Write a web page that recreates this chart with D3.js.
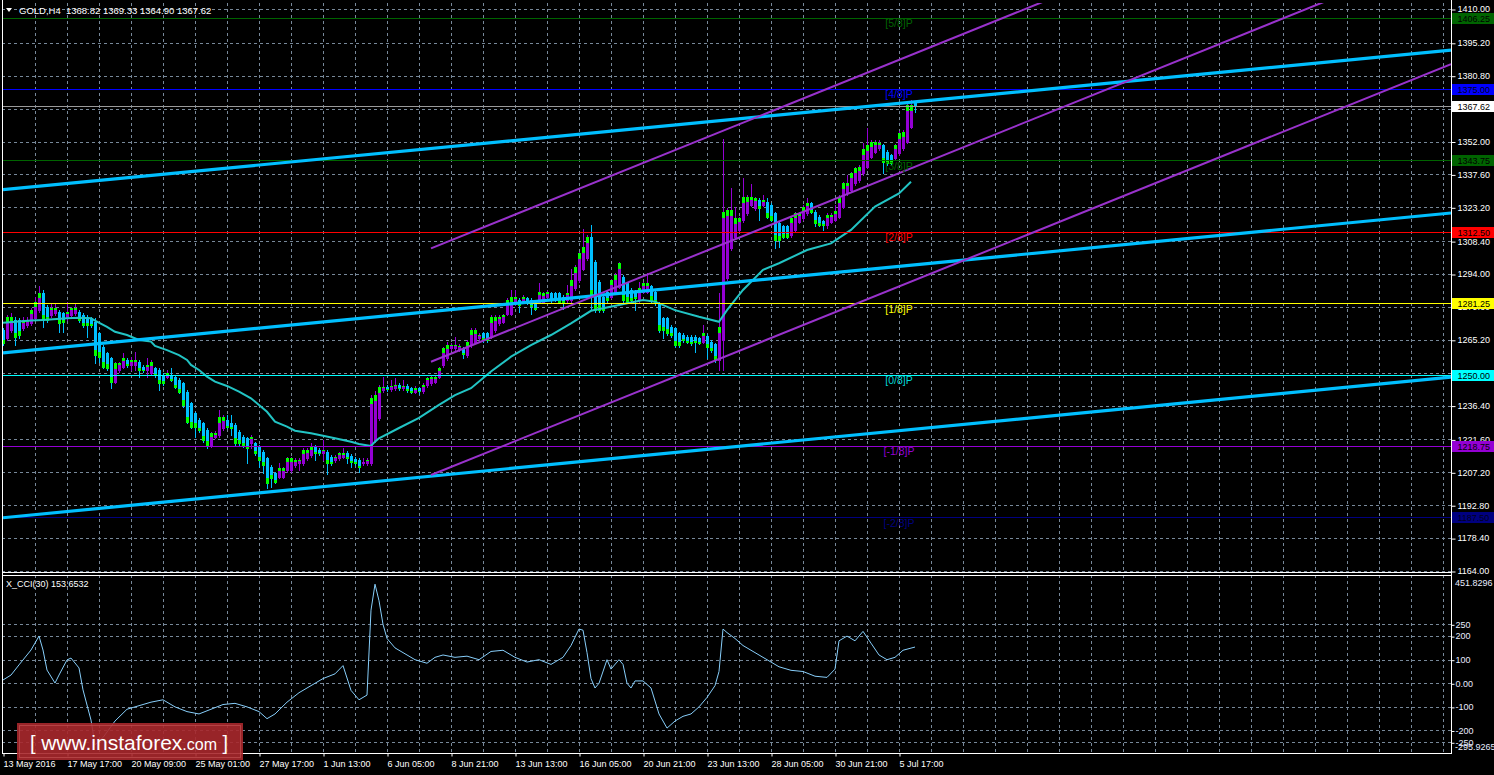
<!DOCTYPE html>
<html><head><meta charset="utf-8">
<script src="https://cdn.jsdelivr.net/npm/d3@7"></script>
<style>html,body{margin:0;padding:0;background:#000;overflow:hidden}svg{display:block}</style>
</head><body><svg id="c" width="1494" height="775"></svg>
<script>
// ---------- DATA ----------
const opens=[1269.5,1265.8,1269.5,1273.9,1273.9,1270.2,1271.7,1272.4,1274.6,1278.2,1285.5,1279.7,1276.0,1276.8,1277.5,1276.8,1274.6,1276.0,1276.8,1277.5,1276.0,1275.3,1274.6,1273.2,1268.1,1262.2,1259.3,1257.1,1246.9,1252.0,1253.5,1256.4,1254.2,1254.2,1255.6,1253.5,1252.0,1250.6,1252.7,1252.0,1249.8,1249.1,1249.8,1249.1,1247.6,1246.2,1242.5,1237.4,1233.0,1230.1,1228.6,1225.7,1219.1,1222.8,1223.5,1226.4,1230.1,1228.6,1227.9,1225.0,1222.8,1222.1,1219.9,1219.9,1218.4,1216.2,1213.3,1209.7,1206.8,1205.3,1205.3,1208.2,1208.2,1210.4,1211.1,1211.1,1213.3,1214.8,1218.4,1217.0,1215.5,1216.2,1214.0,1212.6,1213.3,1214.0,1215.8,1214.4,1213.0,1212.6,1211.1,1211.1,1211.1,1221.3,1230.9,1243.2,1244.6,1243.6,1244.0,1245.4,1243.9,1245.0,1243.9,1242.5,1244.0,1242.8,1245.4,1246.1,1246.8,1249.0,1254.1,1257.1,1261.4,1261.4,1261.0,1261.4,1258.5,1262.9,1264.4,1265.8,1268.0,1268.0,1266.5,1269.5,1272.4,1273.1,1276.7,1276.7,1281.1,1282.6,1281.9,1283.3,1282.6,1281.9,1281.9,1281.9,1284.0,1285.5,1285.5,1285.5,1284.0,1282.6,1282.6,1287.7,1291.3,1296.4,1300.8,1310.3,1299.4,1290.6,1284.0,1286.2,1284.0,1286.2,1288.4,1292.8,1289.9,1287.0,1286.2,1282.6,1286.2,1286.2,1288.7,1286.2,1281.1,1274.6,1274.6,1270.9,1270.2,1268.0,1267.3,1266.5,1266.5,1266.5,1265.8,1264.4,1266.9,1264.4,1263.3,1256.3,1265.1,1292.1,1305.2,1310.4,1313.3,1317.6,1320.5,1324.3,1322.7,1326.4,1324.3,1325.7,1324.3,1320.6,1316.2,1314.8,1314.8,1311.1,1313.3,1316.9,1318.4,1320.6,1325.0,1321.3,1319.1,1317.0,1315.5,1316.9,1317.7,1319.1,1323.5,1329.3,1330.8,1333.7,1335.1,1338.1,1340.9,1345.3,1347.5,1349.0,1350.4,1347.5,1346.0,1344.6,1346.8,1349.0,1351.9,1358.4,1368.82];
const highs=[1270.5,1276.0,1276.8,1275.3,1274.6,1275.3,1275.3,1279.0,1284.1,1288.7,1287.0,1280.4,1281.1,1281.1,1278.2,1277.5,1281.9,1279.7,1281.1,1278.2,1276.8,1276.0,1275.3,1274.6,1268.8,1262.9,1260.0,1257.8,1255.6,1255.6,1259.3,1257.1,1257.8,1260.0,1256.4,1254.2,1257.1,1256.4,1253.5,1252.7,1250.6,1252.0,1252.7,1249.8,1248.4,1246.9,1243.2,1238.1,1233.7,1230.8,1229.4,1226.4,1225.0,1225.2,1234.5,1232.3,1232.3,1232.3,1228.6,1225.7,1223.5,1222.8,1223.5,1220.6,1219.1,1216.9,1214.0,1210.4,1207.5,1211.1,1209.7,1214.0,1214.0,1213.3,1213.3,1217.7,1217.7,1219.9,1219.1,1217.7,1221.3,1217.0,1214.8,1214.8,1216.2,1217.7,1216.5,1215.1,1213.7,1213.3,1213.3,1213.3,1241.1,1243.0,1245.4,1249.0,1245.4,1247.6,1248.3,1246.1,1247.6,1245.7,1244.6,1245.0,1244.6,1246.1,1249.0,1249.7,1249.7,1253.4,1262.2,1264.4,1263.6,1266.5,1263.2,1262.2,1265.1,1270.2,1270.2,1268.0,1268.7,1268.7,1276.0,1276.0,1276.0,1276.7,1283.3,1287.0,1287.0,1283.3,1284.8,1284.0,1283.3,1282.6,1289.9,1286.2,1287.0,1286.2,1286.2,1286.2,1284.8,1289.1,1296.4,1298.0,1303.7,1313.9,1311.0,1315.4,1300.1,1291.3,1284.8,1287.0,1292.0,1294.3,1299.4,1293.5,1290.6,1287.7,1287.0,1290.6,1290.6,1294.3,1289.4,1287.0,1281.9,1275.3,1275.3,1271.7,1270.9,1268.7,1268.0,1267.3,1267.3,1267.3,1266.5,1271.7,1267.6,1265.1,1264.0,1285.5,1353.0,1322.7,1331.6,1323.5,1319.0,1335.9,1328.5,1333.4,1327.8,1327.1,1328.5,1327.1,1325.0,1321.3,1316.9,1315.5,1315.5,1319.1,1321.3,1321.3,1324.2,1327.1,1325.7,1322.0,1319.8,1317.7,1320.6,1320.6,1324.2,1328.6,1334.4,1337.3,1338.8,1341.0,1341.6,1351.2,1357.7,1352.6,1352.6,1352.6,1351.1,1348.2,1346.7,1351.1,1356.5,1357.0,1369.0,1370.1,1369.33];
const lows=[1263.0,1265.1,1268.8,1262.9,1266.0,1269.5,1271.0,1271.7,1274.0,1277.5,1271.0,1273.2,1275.3,1276.0,1268.8,1268.8,1273.9,1275.3,1276.0,1273.2,1271.0,1266.6,1271.0,1254.9,1255.6,1252.7,1252.0,1244.0,1246.2,1251.3,1252.7,1253.5,1252.0,1252.0,1249.1,1251.3,1249.1,1250.0,1249.1,1243.2,1245.4,1248.4,1247.0,1244.0,1241.8,1236.0,1228.6,1226.4,1222.8,1225.0,1220.6,1217.7,1218.4,1222.1,1222.8,1225.7,1226.4,1223.5,1219.1,1219.1,1218.4,1211.1,1217.7,1214.8,1209.7,1206.8,1200.2,1200.9,1202.4,1204.6,1204.6,1207.5,1207.5,1209.7,1208.2,1210.4,1212.6,1214.0,1212.6,1214.8,1212.6,1206.5,1210.4,1211.9,1212.6,1213.3,1211.1,1209.7,1210.4,1207.5,1210.4,1210.4,1210.4,1220.6,1230.1,1242.5,1242.8,1243.0,1243.2,1243.2,1243.2,1242.5,1241.8,1241.8,1241.5,1242.0,1244.6,1245.4,1246.1,1248.3,1253.4,1256.3,1260.7,1260.7,1260.3,1257.1,1257.8,1262.2,1263.6,1265.1,1264.4,1264.4,1265.8,1268.7,1271.7,1272.4,1276.0,1276.0,1280.4,1277.5,1281.1,1280.7,1276.7,1278.2,1281.1,1281.1,1283.3,1281.9,1282.2,1281.1,1278.9,1281.9,1281.9,1287.0,1290.6,1295.7,1300.1,1278.2,1277.5,1277.5,1277.5,1281.9,1283.3,1285.5,1287.7,1281.9,1281.1,1281.9,1278.2,1281.9,1285.5,1285.5,1281.9,1280.4,1268.7,1265.8,1267.3,1266.5,1262.2,1262.2,1264.4,1263.6,1262.9,1260.0,1263.2,1263.6,1257.1,1260.0,1255.6,1252.0,1252.0,1291.4,1304.5,1309.7,1312.6,1316.9,1319.8,1323.6,1322.0,1317.6,1323.6,1318.4,1317.0,1305.2,1306.0,1309.7,1309.7,1310.4,1312.6,1316.2,1317.7,1319.9,1320.6,1314.8,1314.8,1313.3,1314.0,1316.2,1317.0,1318.4,1322.8,1328.6,1330.1,1333.0,1334.4,1337.4,1340.2,1344.6,1346.8,1348.3,1338.0,1341.7,1341.7,1343.9,1346.1,1348.3,1351.2,1357.7,1364.90];
const closes=[1264.0,1275.3,1275.3,1266.6,1267.3,1273.9,1273.9,1278.2,1281.9,1285.5,1273.9,1273.9,1279.0,1279.0,1272.4,1273.2,1277.5,1279.0,1279.0,1273.9,1271.7,1271.7,1271.7,1258.5,1257.8,1253.5,1252.7,1246.9,1255.1,1255.1,1257.1,1254.2,1256.4,1256.4,1252.0,1252.0,1254.2,1255.6,1249.8,1246.2,1246.2,1250.6,1247.6,1244.7,1242.5,1236.7,1229.4,1227.2,1227.2,1225.7,1221.3,1219.1,1224.2,1224.5,1231.6,1231.6,1227.2,1226.4,1219.9,1219.9,1219.1,1217.7,1222.8,1215.5,1212.6,1210.4,1202.4,1204.6,1203.1,1208.9,1208.9,1213.3,1213.3,1212.6,1212.6,1217.0,1217.0,1218.4,1215.5,1215.5,1217.0,1211.1,1211.1,1214.0,1215.5,1215.8,1213.3,1211.5,1211.1,1209.7,1211.9,1212.4,1239.7,1241.1,1244.7,1244.6,1243.6,1245.0,1245.4,1243.9,1245.0,1243.2,1242.5,1244.0,1242.8,1245.4,1248.3,1249.0,1249.0,1252.7,1261.4,1262.9,1262.9,1262.9,1262.5,1259.2,1264.4,1269.5,1269.5,1267.3,1265.4,1265.1,1275.3,1275.3,1275.3,1276.0,1282.6,1284.0,1284.0,1280.4,1284.0,1281.4,1280.0,1278.9,1286.2,1285.5,1286.2,1282.6,1282.9,1281.9,1281.9,1285.5,1291.3,1297.2,1303.0,1305.9,1310.3,1284.8,1278.2,1278.2,1278.2,1282.6,1291.3,1293.5,1298.6,1282.6,1281.9,1282.6,1283.3,1287.7,1289.9,1289.9,1282.6,1281.1,1269.5,1269.5,1268.0,1267.3,1262.9,1262.9,1265.1,1264.4,1263.6,1264.4,1263.9,1268.0,1262.2,1260.7,1256.3,1270.9,1321.3,1322.0,1322.0,1318.3,1318.3,1327.8,1327.8,1327.5,1327.1,1323.0,1326.4,1319.1,1317.7,1308.9,1308.9,1310.4,1310.4,1318.4,1320.6,1320.6,1323.5,1325.0,1321.3,1316.2,1315.5,1315.5,1319.9,1319.9,1321.6,1327.9,1333.7,1333.7,1338.1,1340.3,1340.9,1348.6,1350.4,1351.9,1351.9,1351.2,1343.1,1342.4,1342.4,1350.4,1355.8,1356.3,1368.0,1368.0,1367.62];

const maBars=[0,7,10,16,19,22,23,26,28,31,34,37,38,41,44,46,47,49,51,53,56,59,62,64,66,68,71,73,77,80,83,87,89,92,93,94,99,104,109,113,117,122,127,132,137,142,147,154,160,163,168,174,179,181,185,190,194,201,207,212,218,224,227];
const maValues=[1272.7,1273.6,1273.9,1274.6,1274.9,1274.6,1273.6,1270.9,1268.7,1267.3,1265.1,1264.4,1262.5,1260.7,1258.5,1256.4,1254.2,1252.0,1249.1,1246.9,1245.0,1242.5,1239.6,1236.7,1233.7,1229.4,1227.2,1225.4,1224.3,1223.2,1222.1,1220.6,1219.6,1218.7,1220.6,1222.1,1226.6,1231.0,1236.7,1241.0,1244.0,1251.3,1257.8,1262.9,1267.3,1272.4,1277.9,1280.4,1282.6,1281.9,1278.2,1275.3,1273.1,1278.2,1287.0,1295.8,1298.7,1304.5,1307.4,1313.3,1323.5,1329.3,1334.4];

const cciBars=[0,2,4,7,9,10,11,13,14,16,17,19,20,22,23,25,28,31,34,37,40,43,46,49,52,55,58,61,64,66,68,71,74,77,80,83,85,87,89,91,92,93,94,95,96,98,100,103,106,108,110,113,116,119,122,125,128,131,134,137,140,142,144,145,146,147,148,149,151,152,154,155,156,157,158,160,162,164,166,168,170,172,174,176,178,179,180,181,183,185,188,191,194,197,200,203,206,208,209,211,213,215,217,219,221,223,225,228];
const cciValues=[14,35,78,141,200,141,56,1,35,99,107,65,-28,-156,-261,-230,-160,-110,-95,-80,-70,-100,-120,-130,-110,-90,-85,-100,-120,-150,-130,-80,-40,-10,20,40,75,-30,-70,-50,310,420,350,250,190,150,130,100,85,110,120,110,115,100,135,140,110,90,100,80,110,160,230,225,130,20,-20,0,100,60,100,80,0,-20,10,10,-20,-130,-190,-160,-140,-130,-100,-60,-10,50,230,215,190,160,130,100,70,55,50,30,25,60,180,200,180,220,170,120,100,110,140,153.65];

const priceTicks=[1410.00,1395.20,1380.80,1366.40,1352.00,1337.60,1323.20,1308.40,1294.00,1279.60,1265.20,1250.80,1236.40,1221.60,1207.20,1192.80,1178.40,1164.00];
const priceTickLabels=["1410.00","1395.20","1380.80","1366.40","1352.00","1337.60","1323.20","1308.40","1294.00","1279.60","1265.20","1250.80","1236.40","1221.60","1207.20","1192.80","1178.40","1164.00"];
const cciTicks=[250,200,100,0,-100,-200,-250];
const cciTickLabels=["250","200","100","0.00","-100","-200","-250"];
const cciRange=[-295.9265,451.8296];
const xTickBars=[0,16,32,48,64,80,96,112,128,144,160,176,192,208,224];
const xTickLabels=["13 May 2016","17 May 17:00","20 May 09:00","25 May 01:00","27 May 17:00","1 Jun 13:00","6 Jun 05:00","8 Jun 21:00","13 Jun 13:00","16 Jun 05:00","20 Jun 21:00","23 Jun 13:00","28 Jun 05:00","30 Jun 21:00","5 Jul 17:00"];

const mmLevels=[1406.25,1375.00,1343.75,1312.50,1281.25,1250.00,1218.75,1187.50];
const mmLevelLabels=["1406.25","1375.00","1343.75","1312.50","1281.25","1250.00","1218.75","1187.50"];
const mmNames=["[5/8]P","[4/8]P","[3/8]P","[2/8]P","[1/8]P","[0/8]P","[-1/8]P","[-2/8]P"];
const mmColors=["#006400","#0000ff","#006400","#ff0000","#ffff00","#00ffff","#9400d3","#000080"];
const mmTextColors=["#006400","#0000ff","#006400","#ff0000","#ffff00","#00d8d8","#9400d3","#000080"];

const cyanLines=[[[0,1330.9],[362,1392.0]],[[0,1259.5],[362,1320.7]],[[0,1187.3],[362,1248.9]]];
const purpleLines=[[[107,1305.2],[362,1485.1]],[[107,1255.6],[362,1435.5]],[[107,1206.0],[362,1385.9]]];

const lastPrice=1367.62;
const header="GOLD,H4  1368.82 1369.33 1364.90 1367.62";
const cciTitle="X_CCI(30) 153.6532";

// ---------- LAYOUT ----------
const svg=d3.select("#c");
const FONT="'Liberation Sans', Arial, sans-serif";
const PX=2, RX=1451, mainTop=3, mainBot=572, cciTop=575, cciBot=753;
const x=d3.scaleLinear().domain([0,362]).range([3,1451]);
const y=d3.scaleLinear().domain([1164,1410]).range([571,9]);
const yc=d3.scaleLinear().domain(cciRange).range([753.1,576.7]);
const ry=v=>Math.round(y(v));
const GRID="#778899";

svg.append("rect").attr("width",1494).attr("height",775).attr("fill","#000");
const defs=svg.append("defs");
defs.append("clipPath").attr("id","cm").append("rect").attr("x",PX+1).attr("y",mainTop).attr("width",RX-PX-1).attr("height",mainBot-mainTop);
defs.append("clipPath").attr("id","cc").append("rect").attr("x",PX+1).attr("y",cciTop+1).attr("width",RX-PX-1).attr("height",cciBot-cciTop-1);

// vertical grid
const gridBars=d3.range(8,362,8);
const gv=svg.append("g").attr("stroke",GRID).attr("stroke-dasharray","3,3").attr("shape-rendering","crispEdges");
gridBars.forEach(b=>{
  const xx=Math.round(x(b))+0.5;
  gv.append("line").attr("x1",xx).attr("x2",xx).attr("y1",mainTop).attr("y2",mainBot);
  gv.append("line").attr("x1",xx).attr("x2",xx).attr("y1",cciTop).attr("y2",cciBot);
});
// horizontal grid
priceTicks.forEach(p=>{
  const yy=ry(p)+0.5;
  gv.append("line").attr("x1",PX).attr("x2",RX).attr("y1",yy).attr("y2",yy);
});
cciTicks.forEach(v=>{
  const yy=Math.round(yc(v))+0.5;
  gv.append("line").attr("x1",PX).attr("x2",RX).attr("y1",yy).attr("y2",yy);
});

// candles
const gc=svg.append("g").attr("clip-path","url(#cm)").attr("shape-rendering","crispEdges");
opens.forEach((o,i)=>{
  const c=closes[i], h=highs[i], l=lows[i];
  const bull=c>=o;
  const col=bull?"#9400d3":"#00bfff";
  const cx=Math.round(x(i));
  const yh=ry(h), yl=ry(l);
  gc.append("rect").attr("x",cx).attr("y",yh).attr("width",1).attr("height",Math.max(1,yl-yh+1)).attr("fill",col);
  const yt=ry(Math.max(o,c)), yb=ry(Math.min(o,c));
  const bh=Math.max(1,yb-yt+1);
  gc.append("rect").attr("x",cx-1).attr("y",yt).attr("width",3).attr("height",bh).attr("fill",col);
  const lh=Math.min(6,Math.max(1,Math.round(bh*0.3)));
  if(bh>=3){
    gc.append("rect").attr("x",cx-1).attr("y",bull?yt:yb-lh+1).attr("width",3).attr("height",lh).attr("fill","#00ff00");
  }
});

// moving average
svg.append("path").attr("clip-path","url(#cm)")
  .datum(maBars.map((b,i)=>[b,maValues[i]]))
  .attr("d",d3.line().x(d=>x(d[0])).y(d=>y(d[1])))
  .attr("fill","none").attr("stroke","#22c4c4").attr("stroke-width",2);

// level lines
const gl=svg.append("g").attr("shape-rendering","crispEdges");
mmLevels.forEach((p,i)=>{
  const yy=ry(p)+0.5;
  gl.append("line").attr("x1",PX).attr("x2",RX).attr("y1",yy).attr("y2",yy).attr("stroke",mmColors[i]).attr("stroke-width",1);
});
gl.append("line").attr("x1",PX).attr("x2",RX).attr("y1",ry(lastPrice)+0.5).attr("y2",ry(lastPrice)+0.5).attr("stroke","#9a9a9a");

// trend lines
const gt=svg.append("g").attr("clip-path","url(#cm)");
const ln=d3.line().x(d=>x(d[0])).y(d=>y(d[1]));
cyanLines.forEach(seg=>{
  gt.append("path").attr("d",ln(seg)).attr("stroke","#00bfff").attr("stroke-width",3.2).attr("fill","none");
});
purpleLines.forEach(seg=>{
  gt.append("path").attr("d",ln(seg)).attr("stroke","#9932cc").attr("stroke-width",2).attr("fill","none");
});

// level names
mmLevels.forEach((p,i)=>{
  svg.append("text").attr("x",899).attr("y",y(p)+9.5).attr("text-anchor","middle")
    .attr("font-family",FONT).attr("font-size",10.5).attr("fill",mmTextColors[i]).text(mmNames[i]);
});

// CCI line
svg.append("path").attr("clip-path","url(#cc)")
  .datum(cciBars.map((b,i)=>[b,cciValues[i]]))
  .attr("d",d3.line().x(d=>x(d[0])).y(d=>yc(d[1])))
  .attr("fill","none").attr("stroke","#87cefa").attr("stroke-width",1);

// frames
const gf=svg.append("g").attr("stroke","#fff").attr("shape-rendering","crispEdges");
gf.append("line").attr("x1",PX+0.5).attr("x2",PX+0.5).attr("y1",0).attr("y2",cciBot);
gf.append("line").attr("x1",RX+0.5).attr("x2",RX+0.5).attr("y1",0).attr("y2",cciBot);
gf.append("line").attr("x1",PX).attr("x2",RX+1).attr("y1",mainBot+0.5).attr("y2",mainBot+0.5);
gf.append("line").attr("x1",PX).attr("x2",RX+1).attr("y1",cciTop+0.5).attr("y2",cciTop+0.5);
gf.append("line").attr("x1",PX).attr("x2",RX+1).attr("y1",cciBot+0.5).attr("y2",cciBot+0.5);

// price axis
const ay=svg.append("g").attr("transform",`translate(${RX+0.5},0)`)
  .call(d3.axisRight(y).tickValues(priceTicks).tickFormat((d,i)=>priceTickLabels[i]).tickSize(4).tickPadding(2));
ay.select(".domain").remove();
ay.selectAll("line").attr("stroke","#fff").attr("transform","translate(0,0.5)");
ay.selectAll("text").attr("fill","#fff").attr("font-family",FONT).attr("font-size",9);

// level boxes
mmLevels.forEach((p,i)=>{
  const yy=ry(p);
  svg.append("rect").attr("x",1452).attr("y",yy-5).attr("width",42).attr("height",11).attr("fill",mmColors[i]);
  svg.append("text").attr("x",1457.5).attr("y",yy+3.5).attr("font-family",FONT).attr("font-size",9)
    .attr("fill",i===1||i===7?"#000020":"#000").text(mmLevelLabels[i]);
});
{
  const yy=ry(lastPrice);
  svg.append("rect").attr("x",1452).attr("y",yy-5).attr("width",42).attr("height",11).attr("fill","#fff");
  svg.append("text").attr("x",1457.5).attr("y",yy+3.5).attr("font-family",FONT).attr("font-size",9).attr("fill","#000").text(lastPrice.toFixed(2));
}

// cci axis
const ac=svg.append("g").attr("transform",`translate(${RX+0.5},0)`)
  .call(d3.axisRight(yc).tickValues(cciTicks).tickFormat((d,i)=>cciTickLabels[i]).tickSize(3).tickPadding(1));
ac.select(".domain").remove();
ac.selectAll("line").attr("stroke","#fff").attr("transform","translate(0,0.5)");
ac.selectAll("text").attr("fill","#e8ecff").attr("font-family",FONT).attr("font-size",9);
svg.append("text").attr("x",1455).attr("y",yc(cciRange[1])+9.5).attr("font-family",FONT).attr("font-size",9).attr("fill","#e8ecff").text(cciRange[1].toFixed(4));
svg.append("text").attr("x",1455).attr("y",yc(cciRange[0])-3).attr("font-family",FONT).attr("font-size",9).attr("fill","#e8ecff").text(cciRange[0].toFixed(4));

// x axis
const ax=svg.append("g").attr("transform",`translate(0.5,${cciBot+0.5})`)
  .call(d3.axisBottom(x).tickValues(xTickBars).tickFormat((d,i)=>xTickLabels[i]).tickSize(3).tickPadding(4));
ax.select(".domain").remove();
ax.selectAll("line").attr("stroke","#fff");
ax.selectAll("text").attr("fill","#fff").attr("font-family",FONT).attr("font-size",9).attr("text-anchor","start").attr("x",-0.5);

// header
svg.append("path").attr("d","M6,8 L12,8 L9,12 Z").attr("fill","#fff");
svg.append("text").attr("x",19).attr("y",14).attr("font-family",FONT).attr("font-size",9.5).attr("fill","#fff").attr("xml:space","preserve").style("white-space","pre").text(header);
svg.append("text").attr("x",6).attr("y",587).attr("font-family",FONT).attr("font-size",9).attr("fill","#fff").text(cciTitle);

// watermark
svg.append("rect").attr("x",17).attr("y",723).attr("width",226).attr("height",37).attr("fill","#a8282c").attr("fill-opacity",0.9);
svg.append("rect").attr("x",19.5).attr("y",725.5).attr("width",221).attr("height",32).attr("fill","none").attr("stroke","#d06060").attr("stroke-opacity",0.5);
const wm=svg.append("text").attr("x",30).attr("y",750).attr("font-family",FONT).attr("fill","#fff");
wm.append("tspan").attr("font-size",20).text("[ ");
wm.append("tspan").attr("font-size",21).text("www.instaforex");
wm.append("tspan").attr("font-size",16).text(".com");
wm.append("tspan").attr("font-size",20).text(" ]");
</script></body></html>
